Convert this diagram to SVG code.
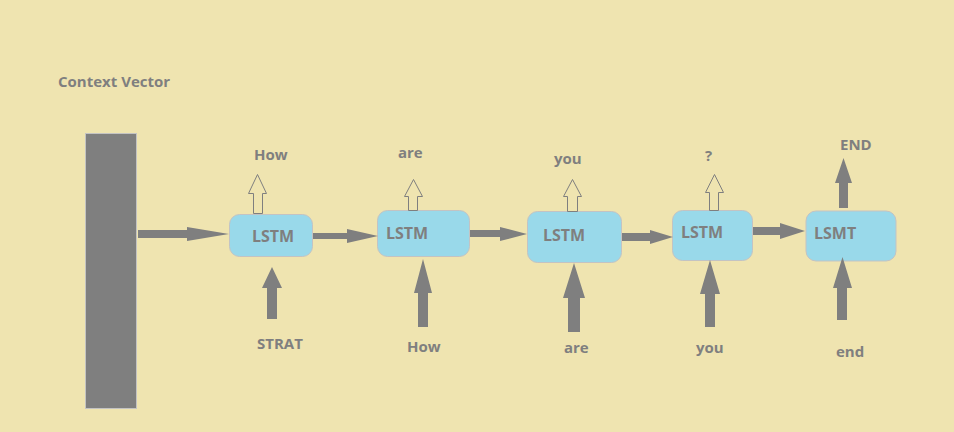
<svg xmlns="http://www.w3.org/2000/svg" width="954" height="432" viewBox="0 0 954 432">
<style>
.t{font-family:"Open Sans","Noto Sans","Liberation Sans",sans-serif;font-weight:bold;font-size:15px;fill:#7f7f7f}
.b{font-size:16px}
.box{fill:#99d9ea;stroke:#c3c3c3;stroke-width:1}
.solid{fill:#7f7f7f;stroke:none}
.hollow{fill:none;stroke:#7f7f7f;stroke-width:1}
</style>
<rect width="954" height="432" fill="#efe4b0"/>
<g id="context">
<text class="t" x="58" y="87">Context Vector</text>
<rect x="85.5" y="133.5" width="51" height="275" fill="#7f7f7f" stroke="#c3c3c3"/>
</g>
<g id="lstm1"><rect class="box" x="229.5" y="214.5" width="83" height="42" rx="10"/><text class="t b" x="252" y="242">LSTM</text></g>
<g id="lstm2"><rect class="box" x="377.5" y="210.5" width="92" height="46" rx="10"/><text class="t b" x="386" y="239">LSTM</text></g>
<g id="lstm3"><rect class="box" x="527.5" y="211.5" width="94" height="51" rx="10"/><text class="t b" x="543" y="241">LSTM</text></g>
<g id="lstm4"><rect class="box" x="672.5" y="210.5" width="80" height="50" rx="10"/><text class="t b" x="681" y="238">LSTM</text></g>
<g id="lsmt5"><rect class="box" x="806" y="211" width="90" height="50" rx="10" stroke="none"/><text class="t b" x="814" y="239">LSMT</text></g>
<g id="connectors">
<polygon class="solid" points="138,230 187,230 187,227 229,234 187,241 187,238 138,238"/>
<polygon class="solid" points="313,233 347,233 347,229 378,236 347,243 347,239 313,239"/>
<polygon class="solid" points="470,230 500,230 500,227 527,234 500,241 500,237 470,237"/>
<polygon class="solid" points="622,233 650,233 650,230 673,237 650,244 650,241 622,241"/>
<polygon class="solid" points="753,227 780,227 780,223 805,231 780,239 780,235 753,235"/>
<polygon class="hollow" points="253.5,213.5 253.5,193.5 248.5,193.5 257.5,174.5 266.5,193.5 262.5,193.5 262.5,213.5"/>
<polygon class="hollow" points="408.5,210.5 408.5,196.5 404.5,196.5 413.5,179.5 422.5,196.5 417.5,196.5 417.5,210.5"/>
<polygon class="hollow" points="567.5,211.5 567.5,196.5 563.5,196.5 572.5,179.5 581.5,196.5 577.5,196.5 577.5,211.5"/>
<polygon class="hollow" points="709.5,210.5 709.5,192.5 705.5,192.5 714.5,174.5 723.5,192.5 718.5,192.5 718.5,210.5"/>
<polygon class="solid" points="839,208 839,183 835,183 843.5,158 852,183 848,183 848,208"/>
<polygon class="solid" points="267,319 267,288 262,288 272,267 282,288 277,288 277,319"/>
<polygon class="solid" points="418,327 418,293 414,293 423,259 432,293 428,293 428,327"/>
<polygon class="solid" points="568,332 568,298 563,298 574,263 585,298 580,298 580,332"/>
<polygon class="solid" points="705,327 705,294 700,294 710,260 720,294 715,294 715,327"/>
<polygon class="solid" points="837,320 837,288 833,288 842.5,257 852,288 847,288 847,320"/>
</g>
<g id="labels">
<text class="t" x="254" y="160">How</text>
<text class="t" x="398" y="158">are</text>
<text class="t" x="554" y="164">you</text>
<text class="t" x="705" y="161">?</text>
<text class="t" x="840" y="150">END</text>
<text class="t" x="257" y="349">STRAT</text>
<text class="t" x="407" y="352">How</text>
<text class="t" x="564" y="353">are</text>
<text class="t" x="696" y="353">you</text>
<text class="t" x="836" y="357">end</text>
</g>
</svg>
